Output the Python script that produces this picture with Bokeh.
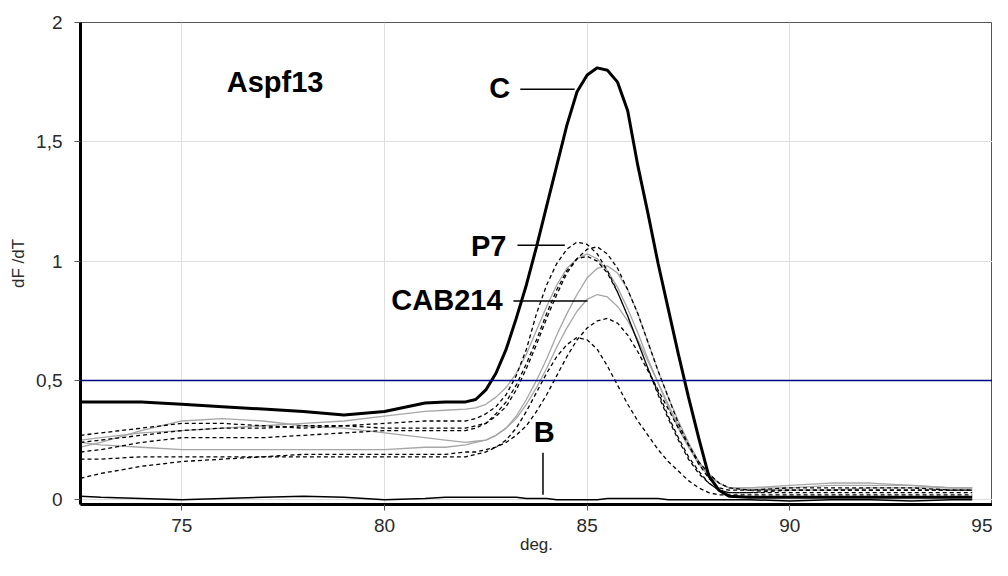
from bokeh.plotting import figure
from bokeh.models import Span, Range1d, FixedTicker, CustomJSTickFormatter
from bokeh.embed import file_html
from bokeh.resources import INLINE
from bokeh.core.properties import value

# temperature grid (deg.)
temps = [72.5, 73, 74, 75, 76, 77, 78, 79, 80, 81, 81.5, 82,
         82.25, 82.5, 82.75, 83, 83.25, 83.5, 83.75, 84, 84.25, 84.5, 84.75, 85,
         85.25, 85.5, 85.75, 86, 86.25, 86.5, 86.75, 87, 87.25, 87.5, 87.75, 88,
         88.25, 88.5,
         89, 90, 91, 92, 93, 94, 94.5]

# C (thick solid)
curve_c = [0.41, 0.41, 0.41, 0.40, 0.39, 0.38, 0.37, 0.355, 0.37, 0.405, 0.41, 0.41,
           0.42, 0.46, 0.53, 0.63, 0.76, 0.90, 1.06, 1.23, 1.40, 1.57, 1.71, 1.78,
           1.81, 1.80, 1.75, 1.63, 1.40, 1.20, 0.99, 0.80, 0.61, 0.43, 0.26, 0.10,
           0.04, 0.015,
           0.01, 0.01, 0.01, 0.01, 0.01, 0.01, 0.01]

# dashed black curves
dash_1 = [0.27, 0.28, 0.30, 0.32, 0.32, 0.31, 0.30, 0.31, 0.32, 0.33, 0.33, 0.33,
          0.34, 0.36, 0.39, 0.44, 0.52, 0.63, 0.78, 0.90, 0.99, 1.05, 1.08, 1.07,
          1.03, 0.96, 0.87, 0.77, 0.66, 0.55, 0.44, 0.34, 0.25, 0.17, 0.11, 0.07,
          0.04, 0.03,
          0.03, 0.04, 0.04, 0.04, 0.04, 0.04, 0.04]
dash_2 = [0.24, 0.25, 0.27, 0.29, 0.30, 0.30, 0.31, 0.31, 0.30, 0.30, 0.30, 0.30,
          0.31, 0.32, 0.35, 0.39, 0.46, 0.55, 0.65, 0.76, 0.86, 0.95, 1.01, 1.05,
          1.06, 1.03, 0.97, 0.88, 0.78, 0.66, 0.54, 0.43, 0.32, 0.23, 0.15, 0.09,
          0.05, 0.04,
          0.04, 0.05, 0.05, 0.05, 0.05, 0.04, 0.04]
dash_3 = [0.20, 0.21, 0.24, 0.26, 0.26, 0.26, 0.27, 0.28, 0.29, 0.29, 0.29, 0.29,
          0.30, 0.32, 0.36, 0.41, 0.48, 0.57, 0.67, 0.78, 0.88, 0.96, 1.01, 1.02,
          1.00, 0.95, 0.87, 0.77, 0.66, 0.55, 0.45, 0.35, 0.26, 0.18, 0.12, 0.07,
          0.04, 0.03,
          0.03, 0.03, 0.03, 0.03, 0.03, 0.03, 0.03]
dash_4 = [0.17, 0.17, 0.18, 0.18, 0.18, 0.18, 0.19, 0.19, 0.19, 0.19, 0.19, 0.20,
          0.20, 0.21, 0.22, 0.24, 0.27, 0.31, 0.37, 0.44, 0.52, 0.60, 0.67, 0.72,
          0.75, 0.76, 0.74, 0.69, 0.62, 0.54, 0.46, 0.38, 0.30, 0.23, 0.16, 0.11,
          0.07, 0.05,
          0.04, 0.04, 0.04, 0.04, 0.04, 0.04, 0.04]
dash_5 = [0.09, 0.11, 0.14, 0.16, 0.17, 0.18, 0.18, 0.18, 0.18, 0.18, 0.18, 0.18,
          0.19, 0.20, 0.22, 0.25, 0.30, 0.37, 0.45, 0.53, 0.60, 0.65, 0.68, 0.67,
          0.63, 0.56, 0.48, 0.40, 0.33, 0.27, 0.21, 0.16, 0.12, 0.08, 0.05, 0.03,
          0.02, 0.02,
          0.02, 0.02, 0.02, 0.02, 0.02, 0.02, 0.02]

# grey solid curves
grey_1 = [0.25, 0.26, 0.28, 0.29, 0.30, 0.31, 0.32, 0.33, 0.35, 0.37, 0.375, 0.38,
          0.385, 0.40, 0.43, 0.47, 0.53, 0.61, 0.71, 0.81, 0.90, 0.97, 1.01, 1.03,
          1.01, 0.96, 0.89, 0.80, 0.70, 0.59, 0.49, 0.39, 0.30, 0.22, 0.15, 0.10,
          0.07, 0.05,
          0.05, 0.06, 0.07, 0.07, 0.06, 0.05, 0.05]
grey_2 = [0.22, 0.24, 0.29, 0.33, 0.34, 0.33, 0.31, 0.30, 0.28, 0.26, 0.25, 0.24,
          0.245, 0.25, 0.27, 0.30, 0.35, 0.42, 0.50, 0.59, 0.69, 0.78, 0.86, 0.93,
          0.97, 0.98, 0.95, 0.88, 0.78, 0.66, 0.54, 0.43, 0.33, 0.24, 0.16, 0.10,
          0.07, 0.05,
          0.05, 0.05, 0.06, 0.06, 0.06, 0.05, 0.05]
grey_3 = [0.24, 0.23, 0.22, 0.21, 0.21, 0.21, 0.21, 0.21, 0.21, 0.22, 0.22, 0.23,
          0.24, 0.25, 0.27, 0.30, 0.34, 0.40, 0.47, 0.55, 0.64, 0.72, 0.79, 0.84,
          0.86, 0.85, 0.81, 0.75, 0.67, 0.58, 0.49, 0.40, 0.31, 0.23, 0.16, 0.11,
          0.07, 0.05,
          0.04, 0.04, 0.04, 0.05, 0.05, 0.05, 0.05]

# B (blank, near zero)
curve_b = [0.015, 0.01, 0.005, 0.0, 0.005, 0.01, 0.015, 0.01, 0.0, 0.005, 0.01, 0.01,
           0.01, 0.01, 0.01, 0.01, 0.01, 0.005, 0.005, 0.005, 0.0, 0.0, 0.0, 0.0,
           0.0, 0.005, 0.005, 0.005, 0.005, 0.005, 0.005, 0.0, 0.0, 0.0, 0.0, 0.0,
           0.0, 0.0,
           0.0, -0.005, 0.0, 0.0, -0.005, 0.0, 0.0]

threshold = 0.5

x_ticks = [75, 80, 85, 90, 95]
y_ticks = [0, 0.5, 1, 1.5, 2]

label_text = ["Aspf13", "C", "P7", "CAB214", "B"]
label_x = [77.30, 82.84, 82.57, 81.54, 83.94]
label_y = [1.749, 1.724, 1.063, 0.837, 0.285]

lead_x0 = [83.35, 83.28, 83.18, 83.91]
lead_x1 = [84.69, 84.45, 85.01, 83.91]
lead_y0 = [1.720, 1.067, 0.833, 0.197]
lead_y1 = [1.720, 1.067, 0.833, 0.021]

FONT = "Liberation Sans"

p = figure(width=992, height=560, x_range=Range1d(72.5, 95.0), y_range=Range1d(-0.02, 2.0),
           output_backend="svg", toolbar_location=None,
           min_border_left=80, min_border_right=0, min_border_top=22, min_border_bottom=56)
p.background_fill_color = "white"
p.border_fill_color = "white"
p.outline_line_color = "#555555"
p.outline_line_width = 1

p.xaxis.ticker = FixedTicker(ticks=x_ticks)
p.yaxis.ticker = FixedTicker(ticks=y_ticks)
p.yaxis.formatter = CustomJSTickFormatter(code="return tick.toString().replace('.', ',');")
p.xgrid.ticker = FixedTicker(ticks=x_ticks)
p.ygrid.ticker = FixedTicker(ticks=y_ticks)
p.grid.grid_line_color = "#dedede"
p.grid.grid_line_width = 1

for ax in (p.xaxis[0], p.yaxis[0]):
    ax.axis_line_color = "black"
    ax.axis_line_width = 3
    ax.major_tick_line_color = "#555555"
    ax.major_tick_out = 6
    ax.major_tick_in = 0
    ax.minor_tick_line_color = None
    ax.major_label_text_font = FONT
    ax.major_label_text_font_size = "19px"
    ax.major_label_text_color = "#2a2a2a"
    ax.axis_label_text_font = FONT
    ax.axis_label_text_font_size = "17px"
    ax.axis_label_text_font_style = "normal"
    ax.axis_label_text_color = "#2a2a2a"

p.xaxis.axis_label = "deg."
p.yaxis.axis_label = "dF /dT"
p.xaxis.major_label_standoff = 8
p.xaxis.axis_label_standoff = 0
p.yaxis.major_label_standoff = 12
p.yaxis.axis_label_standoff = 5

for ys in (grey_1, grey_2, grey_3):
    p.line(temps, ys, line_color="#a6a6a6", line_width=1.3)
for ys in (dash_1, dash_2, dash_3, dash_4, dash_5):
    p.line(temps, ys, line_color="black", line_width=1.3, line_dash="4 3")
p.line(temps, curve_b, line_color="black", line_width=1.5)
p.line(temps, curve_c, line_color="black", line_width=3)

p.add_layout(Span(location=threshold, dimension="width", line_color="#000080", line_width=1.5))

p.segment(x0=lead_x0, y0=lead_y0, x1=lead_x1, y1=lead_y1, line_color="black", line_width=1.5)
p.text(x=label_x, y=label_y, text=label_text, text_font=value(FONT), text_font_style="bold",
       text_font_size="29px", text_align="center", text_baseline="middle", text_color="black")

open("out.html", "w").write(file_html(p, INLINE))
